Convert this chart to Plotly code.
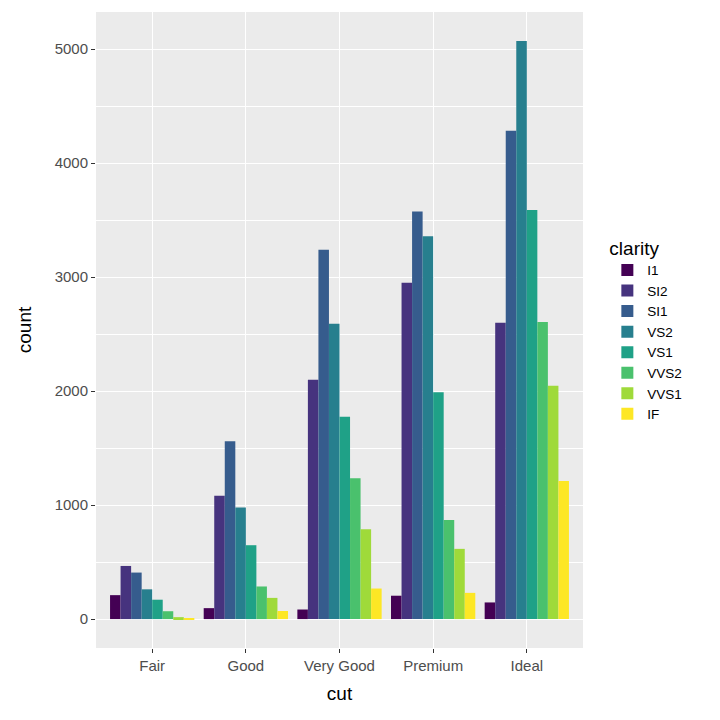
import plotly.graph_objects as go

# diamonds: count by cut and clarity
cuts = ["Fair", "Good", "Very Good", "Premium", "Ideal"]
clarities = ["I1", "SI2", "SI1", "VS2", "VS1", "VVS2", "VVS1", "IF"]
counts = {
    "I1":   [210, 96, 84, 205, 146],
    "SI2":  [466, 1081, 2100, 2949, 2598],
    "SI1":  [408, 1560, 3240, 3575, 4282],
    "VS2":  [261, 978, 2591, 3357, 5071],
    "VS1":  [170, 648, 1775, 1989, 3589],
    "VVS2": [69, 286, 1235, 870, 2606],
    "VVS1": [17, 186, 789, 616, 2047],
    "IF":   [9, 71, 268, 230, 1212],
}
colors = ["#440154", "#46337E", "#365C8D", "#277F8E",
          "#1FA187", "#4AC16D", "#9FDA3A", "#FDE725"]
y_ticks = [0, 1000, 2000, 3000, 4000, 5000]

fig = go.Figure()
for name, col in zip(clarities, colors):
    fig.add_trace(go.Bar(x=cuts, y=counts[name], name=name,
                         marker=dict(color=col, line=dict(width=0))))

ymax = max(max(v) for v in counts.values())
pad = ymax * 0.05

fig.update_layout(
    width=720, height=720,
    barmode="group", bargap=0.1, bargroupgap=0,
    paper_bgcolor="white", plot_bgcolor="#EBEBEB",
    font=dict(family="Liberation Sans, Arial, sans-serif", color="black"),
    margin=dict(l=88, r=145, t=4, b=80),  # page body adds 8px
    legend=dict(
        title=dict(text="clarity", font=dict(size=19)),
        font=dict(size=13.5),
        x=1.05, xanchor="left", y=0.5, yanchor="middle",
        bgcolor="rgba(0,0,0,0)", tracegroupgap=0, itemwidth=30,
    ),
    xaxis=dict(
        title=dict(text="cut", font=dict(size=19), standoff=13),
        range=[-0.6, 4.6], showgrid=True, gridcolor="white", gridwidth=1.4,
        ticks="outside", ticklen=4, tickcolor="#333333",
        tickfont=dict(size=15, color="#4D4D4D"), zeroline=False,
    ),
    yaxis=dict(
        title=dict(text="count", font=dict(size=19), standoff=17),
        range=[-pad, ymax + pad], tickvals=y_ticks,
        showgrid=True, gridcolor="white", gridwidth=1.4,
        minor=dict(tick0=500, dtick=1000, showgrid=True,
                   gridcolor="white", gridwidth=0.6),
        ticks="outside", ticklen=4, tickcolor="#333333",
        tickfont=dict(size=15, color="#4D4D4D"), zeroline=False,
    ),
)

fig.write_html("out.html")
